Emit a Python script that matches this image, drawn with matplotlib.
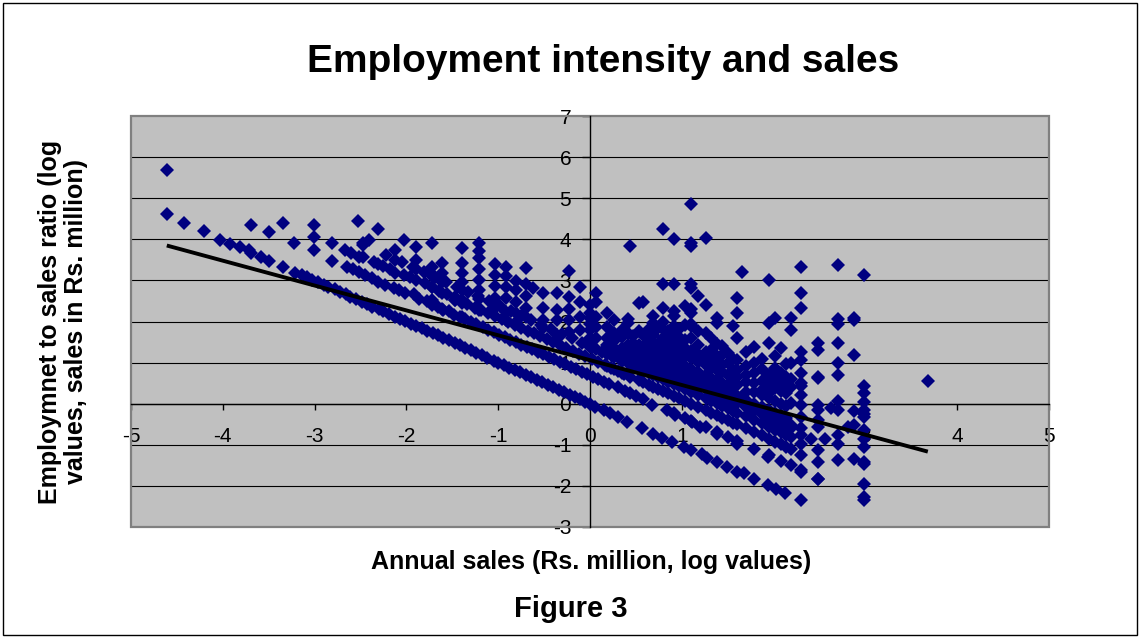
import numpy as np
import matplotlib
matplotlib.use("Agg")
import matplotlib.pyplot as plt
from matplotlib.patches import Rectangle

plt.rcParams['font.family'] = ['Liberation Sans', 'DejaVu Sans']

# ---- data: log annual sales (x) vs log employment-to-sales ratio (y) ----
# scattered small firms at the far left
sparse_x = [-4.61, -4.61, -4.42, -4.20, -4.03, -3.92, -3.81, -3.72, -3.69, -3.69,
            -3.58, -3.50, -3.50, -3.34, -3.34, -3.22, -3.21, -3.01, -3.01, -3.01,
            -2.81, -2.81, -2.67, -2.60, -2.53, -2.52, -2.65, -2.58, -2.52, -2.47]
sparse_y = [5.69, 4.61, 4.39, 4.19, 3.98, 3.89, 3.82, 3.74, 3.67, 4.36,
            3.58, 3.48, 4.18, 4.39, 3.32, 3.90, 3.19, 4.35, 4.06, 3.74,
            3.90, 3.48, 3.74, 3.66, 4.45, 3.58, 3.32, 3.27, 3.21, 3.90]

# one-worker firms
band1_x = [-3.14, -3.08, -3.03, -2.96, -2.90, -2.85, -2.78, -2.72, -2.66, -2.61,
           -2.55, -2.48, -2.43, -2.37, -2.30, -2.25, -2.19, -2.12, -2.07, -2.01,
           -1.95, -1.89, -1.83, -1.78, -1.71, -1.66, -1.60, -1.54, -1.47, -1.42,
           -1.36, -1.30, -1.24, -1.18, -1.12, -1.05, -1.00, -0.94, -0.88, -0.82,
           -0.76, -0.70, -0.64, -0.58, -0.52, -0.46, -0.40, -0.34, -0.28, -0.22,
           -0.16, -0.11, -0.05, 0.00, 0.05, 0.15, 0.22, 0.31, 0.40, 0.57,
           0.69, 0.78, 0.89, 1.02, 1.10, 1.22, 1.27, 1.38, 1.49, 1.60,
           1.68, 1.79, 1.94, 2.03, 2.12, 2.30]
band1_y = [3.14, 3.08, 3.01, 2.96, 2.90, 2.84, 2.78, 2.72, 2.66, 2.60,
           2.55, 2.48, 2.43, 2.36, 2.30, 2.25, 2.18, 2.12, 2.07, 2.01,
           1.95, 1.89, 1.83, 1.77, 1.71, 1.66, 1.60, 1.54, 1.47, 1.42,
           1.36, 1.30, 1.24, 1.18, 1.12, 1.05, 1.00, 0.94, 0.88, 0.82,
           0.76, 0.70, 0.64, 0.58, 0.52, 0.46, 0.40, 0.34, 0.28, 0.22,
           0.16, 0.11, 0.05, 0.00, -0.07, -0.15, -0.23, -0.33, -0.44, -0.60,
           -0.74, -0.84, -0.94, -1.06, -1.13, -1.22, -1.33, -1.41, -1.53, -1.65,
           -1.69, -1.82, -1.98, -2.08, -2.17, -2.34]

# two-worker firms
band2_x = [-2.45, -2.38, -2.31, -2.23, -2.14, -2.08, -2.01, -1.92, -1.86, -1.78,
           -1.72, -1.66, -1.60, -1.54, -1.48, -1.42, -1.36, -1.30, -1.24, -1.17,
           -1.11, -1.05, -0.99, -0.93, -0.87, -0.81, -0.75, -0.69, -0.63, -0.57,
           -0.51, -0.45, -0.39, -0.33, -0.27, -0.21, -0.15, -0.09, -0.03, 0.03,
           0.09, 0.15, 0.21, 0.31, 0.38, 0.44, 0.50, 0.58, 0.67, 0.84,
           0.93, 1.11, 1.20, 1.38, 1.60, 1.94, 2.30, 2.48, 2.98]
band2_y = [3.14, 3.05, 2.97, 2.89, 2.81, 2.77, 2.70, 2.66, 2.55, 2.49,
           2.41, 2.35, 2.29, 2.25, 2.17, 2.11, 2.05, 1.99, 1.93, 1.86,
           1.80, 1.74, 1.68, 1.62, 1.56, 1.50, 1.44, 1.38, 1.32, 1.26,
           1.20, 1.14, 1.08, 1.02, 0.96, 0.90, 0.84, 0.78, 0.72, 0.66,
           0.60, 0.54, 0.48, 0.41, 0.31, 0.25, 0.19, 0.11, -0.03, -0.15,
           -0.28, -0.44, -0.56, -0.74, -0.97, -1.30, -1.66, -1.82, -2.27]

# three-worker firms
band3_x = [-2.35, -2.26, -2.18, -2.12, -2.03, -1.96, -1.89, -1.80, -1.72, -1.64,
           -1.56, -1.47, -1.40, -1.34, -1.25, -1.19, -1.11, -1.04, -0.96, -0.89,
           -0.82, -0.75, -0.68, -0.61, -0.54, -0.47, -0.40, -0.33, -0.26, -0.19,
           -0.12, -0.05, 0.02, 0.09, 0.16, 0.23, 0.30, 0.37, 0.44]
band3_y = [3.45, 3.36, 3.28, 3.19, 3.13, 3.09, 3.01, 2.93, 2.85, 2.74,
           2.66, 2.52, 2.50, 2.42, 2.32, 2.29, 2.21, 2.14, 2.06, 1.99,
           1.92, 1.85, 1.78, 1.71, 1.64, 1.57, 1.50, 1.43, 1.36, 1.29,
           1.22, 1.15, 1.08, 1.01, 0.94, 0.87, 0.80, 0.73, 0.66]

# four-worker firms
band4_x = [-2.22, -2.05, -1.93, -1.81, -1.69, -1.57, -1.45, -1.33, -1.22, -1.10,
           -0.98, -0.86, -0.75, -0.64, -0.53, -0.42, -0.31, -0.20, -0.09, 0.02,
           0.13, 0.24, 0.35]
band4_y = [3.61, 3.44, 3.32, 3.20, 3.08, 2.96, 2.84, 2.72, 2.61, 2.49,
           2.37, 2.25, 2.14, 2.03, 1.92, 1.81, 1.70, 1.59, 1.48, 1.37,
           1.26, 1.15, 1.04]

# firms reporting rounded sales figures (columns of points)
mid_sales = [-2.47, -2.41, -2.31, -2.12, -2.03, -1.90, -1.72, -1.61, -1.47, -1.39,
             -1.21, -1.04, -0.92, -0.81, -0.70, -0.62, -0.51, -0.36, -0.23, -0.11,
             0.44]
mid_ratio = [
    [3.86, 3.58],
    [3.98],
    [4.24, 3.40],
    [3.74, 3.50],
    [3.98],
    [3.82, 3.50, 3.27],
    [3.90, 3.33, 3.11, 2.83, 2.52],
    [3.42, 3.17, 2.97, 2.70, 2.30],
    [2.60, 2.52],
    [3.78, 3.43, 3.17, 2.97, 2.77, 2.52, 2.44, 2.12],
    [3.92, 3.72, 3.55, 3.27, 3.01, 2.77, 2.54, 2.28],
    [3.41, 3.13, 2.87, 2.58, 2.32],
    [3.33, 3.11, 2.85, 2.56, 2.24, 2.04],
    [2.99, 2.77, 2.48, 2.20, 2.00],
    [3.29, 2.91, 2.62, 2.32, 2.12],
    [2.81],
    [2.69, 2.32, 2.04, 1.83],
    [2.69, 2.28, 2.04, 1.67],
    [3.23, 2.60, 2.30, 2.04, 1.75],
    [2.85, 2.48, 2.12, 1.79],
    [3.84],
]

cloud_sales = [0.00, 0.07, 0.18, 0.26, 0.35, 0.41, 0.47, 0.53, 0.58, 0.64,
               0.69, 0.74, 0.80, 0.85, 0.91, 0.97, 1.03, 1.10, 1.18, 1.26,
               1.32, 1.38, 1.44, 1.50, 1.56, 1.60, 1.66, 1.70, 1.79, 1.87,
               1.95, 2.02, 2.08, 2.14, 2.19, 2.30, 2.41, 2.48, 2.56, 2.63,
               2.70, 2.81, 2.88, 2.98, 3.68]
cloud_ratio = [
    [2.41, 2.21, 2.08, 1.95, 1.79, 1.61, 1.39],
    [2.70, 2.47, 2.12, 1.87, 1.59, 1.32],
    [2.21, 1.87, 1.59, 1.43, 1.20, 0.92],
    [2.04, 1.71, 1.53, 1.35, 1.13, 0.84],
    [1.79, 1.63, 1.35, 1.26, 1.04, 0.75],
    [2.05, 1.97, 1.71, 1.43, 1.20, 0.98],
    [1.64, 1.48, 1.32, 1.14, 0.92],
    [2.44, 1.77, 1.42, 1.26, 1.08, 0.86, 0.57],
    [2.47, 1.68, 1.37, 1.21, 1.03, 0.81, 0.52],
    [1.81, 1.55, 1.31, 1.15, 0.97, 0.75, 0.46],
    [2.13, 1.97, 1.68, 1.51, 1.26, 1.10, 0.92, 0.70, 0.41],
    [1.85, 1.46, 1.21, 1.05, 0.87, 0.65, 0.36],
    [4.26, 2.92, 2.32, 1.99, 1.81, 1.59, 1.40, 1.15, 0.99, 0.81, 0.59, 0.30],
    [1.76, 1.54, 1.35, 1.10, 0.94, 0.76, 0.54, 0.25],
    [4.00, 2.92, 2.25, 2.13, 1.88, 1.68, 1.48, 1.29, 1.04, 0.88, 0.70, 0.48, 0.19, -0.22],
    [1.82, 1.62, 1.42, 1.23, 0.98, 0.82, 0.64, 0.42, 0.13],
    [2.37, 1.92, 1.56, 1.36, 1.17, 0.92, 0.76, 0.58, 0.36, 0.07, -0.34],
    [4.87, 3.92, 3.84, 2.92, 2.82, 2.31, 2.21, 1.95, 1.88, 1.60, 1.29, 1.10, 0.85,
     0.69, 0.51, 0.29, 0.00, -0.41],
    [2.61, 1.77, 1.42, 1.21, 1.02, 0.77, 0.61, 0.43, 0.21, -0.08],
    [4.04, 2.41, 1.72, 1.27, 1.13, 0.94, 0.69, 0.53, 0.35, 0.13, -0.16, -0.57],
    [1.59, 1.30, 1.07, 0.88, 0.63, 0.47, 0.29, 0.07, -0.22],
    [2.09, 1.97, 1.46, 1.15, 1.01, 0.82, 0.57, 0.41, 0.23, 0.01, -0.28, -0.69],
    [1.40, 1.19, 0.95, 0.76, 0.51, 0.35, 0.17, -0.05, -0.34],
    [1.23, 1.00, 0.70, 0.45, 0.29, 0.11, -0.11, -0.40, -0.81],
    [1.88, 1.09, 0.83, 0.64, 0.39, 0.23, 0.05, -0.17, -0.46],
    [2.58, 2.21, 1.60, 1.07, 0.82, 0.66, 0.46, 0.19, 0.01, -0.22, -0.50, -0.91],
    [3.20],
    [1.26, 0.92, 0.71, 0.53, 0.29, 0.09, -0.09, -0.31, -0.60],
    [1.39, 0.99, 0.74, 0.50, 0.29, 0.00, -0.18, -0.40, -0.69, -1.10],
    [1.09, 0.84, 0.55, 0.34, 0.21, -0.08, -0.26, -0.48, -0.77],
    [3.00, 1.97, 1.48, 0.70, 0.45, 0.26, 0.13, -0.15, -0.34, -0.56, -0.85, -1.26],
    [2.09, 1.15, 0.88, 0.57, 0.38, 0.06, -0.22, -0.40, -0.63, -0.92],
    [1.35, 0.74, 0.51, 0.31, 0.00, -0.28, -0.48, -0.69, -0.99, -1.39],
    [0.97, 0.66, 0.47, 0.25, -0.06, -0.34, -0.55, -0.75, -1.05],
    [2.09, 1.80, 0.99, 0.59, 0.40, 0.01, -0.52, -0.60, -0.80, -1.10, -1.50],
    [3.33, 2.70, 2.32, 1.27, 1.07, 0.74, 0.50, 0.42, 0.21, -0.02, -0.32, -0.60,
     -0.77, -0.97, -1.25, -1.61],
    [-0.85],
    [1.48, 1.31, 0.66, 0.62, -0.03, -0.15, -0.40, -0.56, -1.13, -1.42, -1.82],
    [-0.85],
    [-0.11],
    [3.37, 2.05, 1.95, 1.48, 0.99, 0.70, 0.07, -0.15, -0.77, -0.97, -1.38],
    [-0.56],
    [2.09, 2.03, 1.19, -0.17, -0.52, -1.34],
    [3.12, 0.43, 0.25, 0.05, -0.15, -0.25, -0.33, -0.63, -0.85, -1.05, -1.42,
     -1.46, -1.95, -2.35],
    [0.55],
]

# fitted linear trend
trend_intercept = 1.06
trend_slope = -0.605

x_ticks = [-5, -4, -3, -2, -1, 0, 1, 2, 3, 4, 5]
y_ticks = [-3, -2, -1, 0, 1, 2, 3, 4, 5, 6, 7]


def expand(cols, groups):
    xs, ys = [], []
    for cx, g in zip(cols, groups):
        xs.extend([cx] * len(g))
        ys.extend(g)
    return xs, ys


mid_x, mid_y = expand(mid_sales, mid_ratio)
cloud_x, cloud_y = expand(cloud_sales, cloud_ratio)

all_x = np.array(sparse_x + band1_x + band2_x + band3_x + band4_x + mid_x + cloud_x)
all_y = np.array(sparse_y + band1_y + band2_y + band3_y + band4_y + mid_y + cloud_y)

# ---- figure ----
W, H = 1139, 637
fig = plt.figure(figsize=(W / 100, H / 100), dpi=100)
fig.patch.set_facecolor('white')

# outer chart frame
fig.add_artist(Rectangle((2.5 / W, 2.5 / H), (W - 5) / W, (H - 5) / H,
                         transform=fig.transFigure, fill=False,
                         edgecolor='black', linewidth=1.0))

left, right, top, bottom = 131, 1049, 116, 527
ax = fig.add_axes([left / W, 1 - bottom / H, (right - left) / W, (bottom - top) / H])
ax.set_facecolor('#C0C0C0')
ax.set_xlim(-5, 5)
ax.set_ylim(-3, 7)

# horizontal gridlines
for yv in y_ticks[1:-1]:
    ax.axhline(yv, color='black', linewidth=0.8, zorder=1)

# plot-area border
ax.add_patch(Rectangle((0, 0), 1, 1, transform=ax.transAxes, fill=False,
                       edgecolor='#808080', linewidth=1.6, zorder=2, clip_on=False))

for side in ('top', 'right'):
    ax.spines[side].set_visible(False)
ax.spines['left'].set_position(('data', 0))
ax.spines['bottom'].set_position(('data', 0))
for side in ('left', 'bottom'):
    ax.spines[side].set_color('black')
    ax.spines[side].set_linewidth(1.0)
    ax.spines[side].set_zorder(3)

ax.set_xticks(x_ticks)
ax.set_xticklabels([str(v) for v in x_ticks])
ax.set_yticks(y_ticks)
ax.set_yticklabels([str(v) for v in y_ticks])
ax.tick_params(axis='x', direction='out', length=4.5, width=1, pad=12,
               labelsize=15, colors='black')
ax.tick_params(axis='y', direction='out', length=5.5, width=1, pad=8,
               labelsize=15, colors='black')

ax.plot(all_x, all_y, linestyle='none', marker='D', markersize=7.6,
        markeredgewidth=0, color='#000080', zorder=4)

tx = np.array([all_x.min(), all_x.max()])
ax.plot(tx, trend_intercept + trend_slope * tx, color='black', linewidth=2.8,
        zorder=5, solid_capstyle='butt')

# titles and axis captions
fig.text(603 / W, 1 - 62 / H, 'Employment intensity and sales', ha='center',
         va='center', fontsize=28, fontweight='bold')
fig.text(591 / W, 1 - 562 / H, 'Annual sales (Rs. million, log values)',
         ha='center', va='center', fontsize=18, fontweight='bold')
fig.text(571 / W, 1 - 609 / H, 'Figure 3', ha='center', va='center',
         fontsize=21, fontweight='bold')
fig.text(63 / W, 1 - 322 / H,
         'Employmnet to sales ratio (log\nvalues, sales in Rs. million)',
         ha='center', va='center', rotation=90, fontsize=18,
         fontweight='bold', multialignment='center', linespacing=1.15)

fig.savefig('out.png', dpi=100)
